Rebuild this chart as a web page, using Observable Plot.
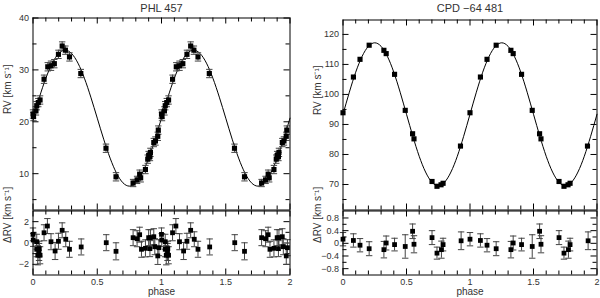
<!DOCTYPE html>
<html>
<head>
<meta charset="utf-8">
<script src="https://cdn.jsdelivr.net/npm/d3@7"></script>
<script src="https://cdn.jsdelivr.net/npm/@observablehq/plot@0.6"></script>
<style>
  html, body { margin: 0; padding: 0; background: #fff; }
  #chart { position: relative; width: 600px; height: 298px; overflow: hidden; }
  #chart svg { position: absolute; overflow: visible; }
</style>
</head>
<body>
<div id="chart"></div>
<script>
// ---------- DATA ----------
const titles = ["PHL 457", "CPD \u221264 481"];
const rvLabel = "RV [km s\u207B\u00B9]";
const resLabel = "\u0394RV [km s\u207B\u00B9]";
const xLabel = "phase";

// PHL 457 radial velocities (phase 0-1), km/s
const phlPhase = [0.000, 0.004, 0.023, 0.029, 0.041, 0.055, 0.086, 0.115, 0.140, 0.166, 0.198, 0.227, 0.252, 0.284, 0.372, 0.568, 0.646, 0.779, 0.810, 0.830, 0.838, 0.875, 0.893, 0.900, 0.910, 0.914, 0.940, 0.953, 0.971, 0.975];
const phlRV    = [21.5, 21.0, 22.1, 23.1, 23.7, 24.2, 28.2, 30.6, 30.8, 31.2, 33.0, 34.6, 33.8, 32.5, 29.3, 14.9, 9.4, 8.2, 8.8, 9.9, 9.2, 10.8, 12.8, 13.5, 13.3, 14.1, 16.0, 16.3, 17.2, 18.4];
const phlErr   = [0.8, 0.8, 0.8, 0.8, 0.8, 0.8, 0.8, 0.8, 0.9, 0.8, 0.8, 0.8, 0.8, 0.8, 0.8, 0.8, 0.8, 0.7, 0.7, 0.8, 0.8, 0.8, 0.8, 0.8, 0.8, 0.8, 0.8, 0.8, 0.8, 0.8];

// PHL 457 residuals
const phlResPhase = [0.000, 0.002, 0.029, 0.029, 0.037, 0.047, 0.049, 0.055, 0.086, 0.112, 0.140, 0.172, 0.198, 0.227, 0.255, 0.284, 0.375, 0.570, 0.646, 0.779, 0.810, 0.830, 0.844, 0.875, 0.900, 0.914, 0.910, 0.940, 0.948, 0.971, 0.980];
const phlRes      = [0.81, 0.28, 0.12, -0.59, -1.15, -0.84, -0.53, -1.15, 0.96, 1.59, 0.12, -0.75, 0.16, 1.19, 0.35, -0.59, -0.37, 0.03, -0.78, 0.50, 0.40, 0.78, -0.59, -0.50, 0.50, 0.50, -0.53, 0.59, -0.35, -1.21, -0.44];
const phlResErr   = [0.6, 0.6, 0.7, 0.7, 0.9, 0.8, 0.7, 0.8, 0.75, 0.7, 0.75, 0.8, 0.75, 0.7, 0.7, 0.75, 0.75, 0.75, 0.8, 0.75, 0.75, 0.7, 0.75, 0.8, 0.75, 0.75, 0.75, 0.75, 0.75, 0.8, 0.75];

// CPD -64 481 radial velocities
const cpdPhase = [0.000, 0.082, 0.134, 0.206, 0.322, 0.340, 0.406, 0.490, 0.548, 0.559, 0.701, 0.740, 0.772, 0.788, 0.925];
const cpdRV    = [93.9, 105.8, 111.7, 116.4, 114.7, 113.6, 106.7, 94.7, 86.9, 85.2, 71.0, 69.4, 69.9, 70.4, 82.8];

// CPD -64 481 residuals
const cpdResPhase = [0.000, 0.082, 0.134, 0.206, 0.322, 0.340, 0.406, 0.490, 0.548, 0.559, 0.701, 0.740, 0.775, 0.788, 0.930];
const cpdRes      = [0.13, 0.09, -0.06, -0.17, -0.20, 0.01, -0.04, -0.10, 0.38, -0.03, 0.18, -0.31, -0.20, -0.04, 0.08];
const cpdResErr   = [0.21, 0.21, 0.21, 0.22, 0.26, 0.22, 0.20, 0.37, 0.23, 0.27, 0.22, 0.19, 0.27, 0.20, 0.28];

// Orbital fit curves, read at 0.05 phase steps over one cycle
const fitPhase = [0, 0.05, 0.1, 0.15, 0.2, 0.25, 0.3, 0.35, 0.4, 0.45, 0.5, 0.55, 0.6, 0.65, 0.7, 0.75, 0.8, 0.85, 0.9, 0.95, 1.0];
const phlFit = [20.7, 24.75, 28.4, 31.3, 33.16, 33.8, 33.16, 31.3, 28.4, 24.75, 20.7, 16.65, 13.0, 10.1, 8.24, 7.6, 8.24, 10.1, 13.0, 16.65, 20.7];
const cpdFit = [93.4, 100.75, 107.4, 112.65, 116.03, 117.2, 116.03, 112.65, 107.4, 100.75, 93.4, 86.05, 79.4, 74.15, 70.77, 69.6, 70.77, 74.15, 79.4, 86.05, 93.4];

// Ticks
const xMajor = [0, 0.5, 1, 1.5, 2];
const xMinor = [0.1, 0.2, 0.3, 0.4, 0.6, 0.7, 0.8, 0.9, 1.1, 1.2, 1.3, 1.4, 1.6, 1.7, 1.8, 1.9];
const phlRVTicks = [10, 20, 30, 40];
const phlRVMinor = [5, 15, 25, 35];
const phlResTicks = [-2, 0, 2];
const phlResMinor = [-1, 1];
const cpdRVTicks = [70, 80, 90, 100, 110, 120];
const cpdRVMinor = [65, 75, 85, 95, 105, 115];
const cpdResTicks = [-0.8, -0.4, 0, 0.4, 0.8];
const cpdResMinor = [-0.6, -0.2, 0.2, 0.6];

// ---------- HELPERS ----------
const fold2 = (ph, vals, errs) => {
  const one = ph.map((p, i) => ({phase: p, v: vals[i], e: errs ? errs[i] : 0}));
  return one.concat(one.map(d => ({...d, phase: d.phase + 1})));
};
const fitTwo = (vals) => {
  const one = fitPhase.map((p, i) => ({phase: p, v: vals[i]}));
  return one.concat(one.slice(1).map(d => ({...d, phase: d.phase + 1})));
};
const fmt = d => d < 0 ? "\u2212" + Math.abs(d) : String(d);
const cap = { draw(ctx, size) { const r = Math.sqrt(size / Math.PI); ctx.moveTo(-r, 0); ctx.lineTo(r, 0); } };

const FONT = "'Liberation Sans', Arial, Helvetica, sans-serif";
const INK = "#333";

function tickMarks(frameW, frameH, yMajor, yMinor) {
  return [
    Plot.tickX(xMajor, {x: d => d, insetTop: frameH - 6, stroke: "#000"}),
    Plot.tickX(xMajor, {x: d => d, insetBottom: frameH - 6, stroke: "#000"}),
    Plot.tickX(xMinor, {x: d => d, insetTop: frameH - 4, stroke: "#000"}),
    Plot.tickX(xMinor, {x: d => d, insetBottom: frameH - 4, stroke: "#000"}),
    Plot.tickY(yMajor, {y: d => d, insetRight: frameW - 6, stroke: "#000"}),
    Plot.tickY(yMajor, {y: d => d, insetLeft: frameW - 6, stroke: "#000"}),
    Plot.tickY(yMinor, {y: d => d, insetRight: frameW - 4, stroke: "#000"}),
    Plot.tickY(yMinor, {y: d => d, insetLeft: frameW - 4, stroke: "#000"})
  ];
}

function errMarks(pts, stroke) {
  return [
    Plot.ruleX(pts, {x: "phase", y1: d => d.v - d.e, y2: d => d.v + d.e, stroke, strokeWidth: 1}),
    Plot.dot(pts, {x: "phase", y: d => d.v + d.e, symbol: cap, r: 3.2, stroke, fill: "none", strokeWidth: 1}),
    Plot.dot(pts, {x: "phase", y: d => d.v - d.e, symbol: cap, r: 3.2, stroke, fill: "none", strokeWidth: 1})
  ];
}

function rvPanel({left, mL, mR, mT, domain, pts, fit, yMajor, yMinor, title, withErr}) {
  const W = 300, H = 215, mB = 5.5;
  const fw = W - mL - mR, fh = H - mT - mB;
  const svg = Plot.plot({
    width: W, height: H,
    marginLeft: mL, marginRight: mR, marginTop: mT, marginBottom: mB,
    style: {fontFamily: FONT, fontSize: "9px", color: INK, background: "transparent", overflow: "visible"},
    x: {domain: [0, 2], axis: null},
    y: {domain, axis: null},
    marks: [
      ...tickMarks(fw, fh, yMajor, yMinor),
      Plot.axisY(yMajor, {anchor: "left", tickSize: 0, tickPadding: 4, tickFormat: fmt, label: null, fill: INK}),
      Plot.line(fit, {x: "phase", y: "v", curve: "natural", stroke: "#000", strokeWidth: 1}),
      ...(withErr ? errMarks(pts, "#444") : []),
      Plot.dot(pts, {x: "phase", y: "v", symbol: "square", r: 2.9, fill: "#000", stroke: "none"}),
      Plot.frame({stroke: "#000"}),
      Plot.text([rvLabel], {text: d => d, frameAnchor: "left", rotate: -90, dx: -25, fontSize: 10, fill: INK}),
      Plot.text([title], {text: d => d, frameAnchor: "top", lineAnchor: "bottom", dy: -(mT - 11), fontSize: 11, fill: INK})
    ]
  });
  svg.style.left = left + "px";
  svg.style.top = "0px";
  return svg;
}

function resPanel({left, mL, mR, domain, pts, yMajor, yMinor}) {
  const W = 300, H = 93, mT = 5.5, mB = 23.5;
  const fw = W - mL - mR, fh = H - mT - mB;
  const svg = Plot.plot({
    width: W, height: H,
    marginLeft: mL, marginRight: mR, marginTop: mT, marginBottom: mB,
    style: {fontFamily: FONT, fontSize: "9px", color: INK, background: "transparent", overflow: "visible"},
    x: {domain: [0, 2], axis: null},
    y: {domain, axis: null},
    marks: [
      ...tickMarks(fw, fh, yMajor, yMinor),
      Plot.axisY(yMajor, {anchor: "left", tickSize: 0, tickPadding: 4, tickFormat: fmt, label: null, fill: INK}),
      Plot.axisX(xMajor, {anchor: "bottom", tickSize: 0, tickPadding: 4, tickFormat: fmt, label: null, fill: INK}),
      ...errMarks(pts, "#444"),
      Plot.dot(pts, {x: "phase", y: "v", symbol: "square", r: 2.7, fill: "#000", stroke: "none"}),
      Plot.frame({stroke: "#000"}),
      Plot.text([resLabel], {text: d => d, frameAnchor: "left", rotate: -90, dx: -25, fontSize: 10, fill: INK}),
      Plot.text([xLabel], {text: d => d, frameAnchor: "bottom", lineAnchor: "top", dy: 13, fontSize: 10, fill: INK})
    ]
  });
  svg.style.left = left + "px";
  svg.style.top = "205px";
  return svg;
}

const chart = document.getElementById("chart");

chart.appendChild(rvPanel({
  left: 0, mL: 32.5, mR: 10.5, mT: 17.5, domain: [3.0, 40],
  pts: fold2(phlPhase, phlRV, phlErr), fit: fitTwo(phlFit),
  yMajor: phlRVTicks, yMinor: phlRVMinor, title: titles[0], withErr: true
}));
chart.appendChild(resPanel({
  left: 0, mL: 32.5, mR: 10.5, domain: [-3, 3],
  pts: fold2(phlResPhase, phlRes, phlResErr),
  yMajor: phlResTicks, yMinor: phlResMinor
}));
chart.appendChild(rvPanel({
  left: 300, mL: 42.5, mR: 3.5, mT: 19.5, domain: [61.5, 124.8],
  pts: fold2(cpdPhase, cpdRV, null), fit: fitTwo(cpdFit),
  yMajor: cpdRVTicks, yMinor: cpdRVMinor, title: titles[1], withErr: false
}));
chart.appendChild(resPanel({
  left: 300, mL: 42.5, mR: 3.5, domain: [-1.0, 1.02],
  pts: fold2(cpdResPhase, cpdRes, cpdResErr),
  yMajor: cpdResTicks, yMinor: cpdResMinor
}));
</script>
</body>
</html>
